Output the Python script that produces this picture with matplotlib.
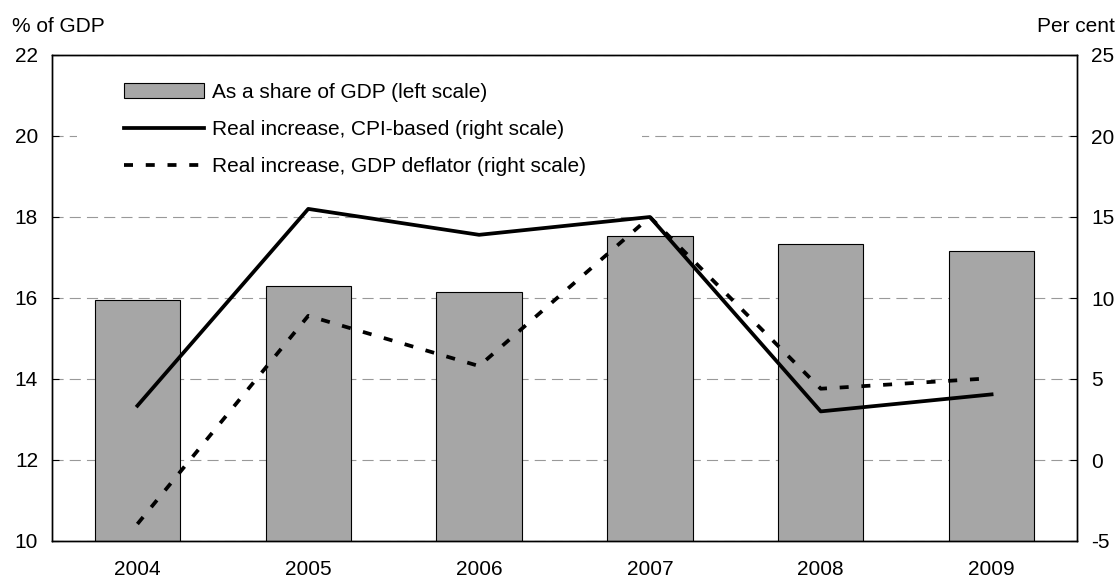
import matplotlib
matplotlib.use("Agg")
import matplotlib.pyplot as plt
from matplotlib.patches import Rectangle
import numpy as np

years = ["2004", "2005", "2006", "2007", "2008", "2009"]
share_gdp = [15.95, 16.3, 16.15, 17.52, 17.33, 17.15]
real_cpi = [3.35, 15.5, 13.9, 15.0, 3.0, 4.05]
real_deflator = [-3.95, 8.9, 5.8, 15.0, 4.4, 5.05]

plt.rcParams["font.family"] = ["Liberation Sans", "DejaVu Sans"]
plt.rcParams["font.size"] = 15
plt.rcParams["axes.unicode_minus"] = False

fig = plt.figure(figsize=(11.2, 5.8), dpi=100)
ax = fig.add_axes([52 / 1120, 39 / 580, 1025 / 1120, 486 / 580])
ax2 = ax.twinx()

x = np.arange(len(years))
bars = ax.bar(x, share_gdp, width=0.5, color="#a6a6a6", edgecolor="black",
              linewidth=0.8, zorder=2, label="As a share of GDP (left scale)")
ax.set_xlim(-0.5, 5.5)
ax.set_ylim(10, 22)
ax.set_yticks(range(10, 23, 2))
ax.set_xticks(x, years)
ax.yaxis.grid(True, linestyle=(0, (10, 5.5)), color="#999999", linewidth=0.8)
ax.set_axisbelow(True)

# white area behind the legend hides the gridline there
ax.add_patch(Rectangle((0.024, 0.69), 0.552, 0.29, transform=ax.transAxes,
                       facecolor="white", edgecolor="none", zorder=1.5))

l1, = ax2.plot(x, real_cpi, color="black", linewidth=2.7,
               label="Real increase, CPI-based (right scale)")
l2, = ax2.plot(x, real_deflator, color="black", linewidth=2.7,
               linestyle=(0, (2.4, 3.4)),
               label="Real increase, GDP deflator (right scale)")
ax2.set_ylim(-5, 25)
ax2.set_yticks(range(-5, 26, 5))

for a in (ax, ax2):
    for s in a.spines.values():
        s.set_linewidth(1.0)
        s.set_color("black")
ax.tick_params(axis="y", direction="in", length=5, pad=10)
ax.tick_params(axis="x", length=0, pad=14)
ax2.tick_params(axis="y", direction="in", length=5, pad=10)

leg = ax2.legend(handles=[bars, l1, l2], loc="upper left",
                 bbox_to_anchor=(124 / 1120, 1 - 83 / 580),
                 bbox_transform=fig.transFigure, frameon=False, fontsize=15,
                 handlelength=3.85, handletextpad=0.38, labelspacing=0.86,
                 borderpad=0, borderaxespad=0)

fig.text(12 / 1120, 1 - 27 / 580, "% of GDP", ha="left", va="center")
fig.text(1115 / 1120, 1 - 27 / 580, "Per cent", ha="right", va="center")

fig.savefig("out.png", dpi=100)
